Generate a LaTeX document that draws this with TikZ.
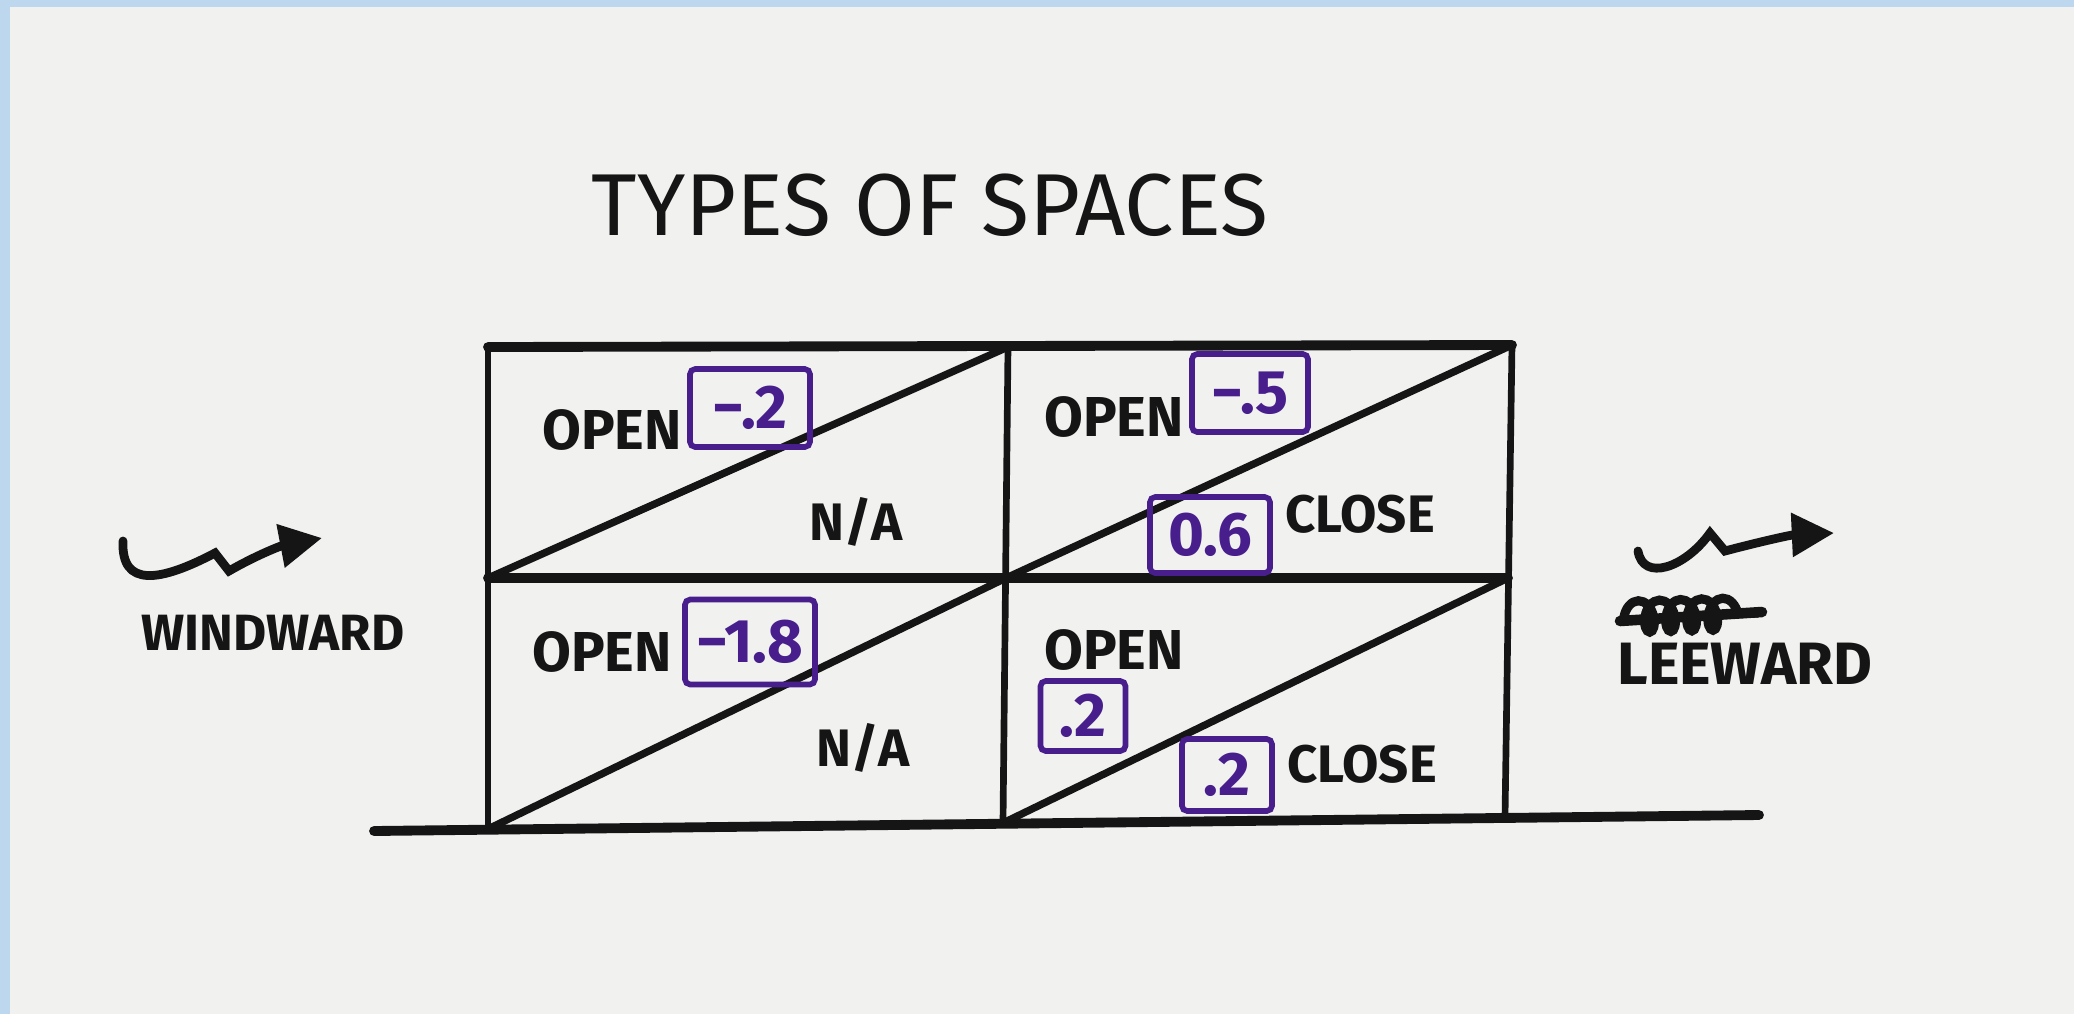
\documentclass[tikz,border=0pt]{standalone}
\usepackage{fontspec}
\setmainfont{Fira Sans}
\usetikzlibrary{arrows.meta,decorations.pathmorphing}
\definecolor{paper}{HTML}{F1F2EF}
\definecolor{band}{HTML}{BCD7EE}
\definecolor{ink}{HTML}{151515}
\definecolor{pmark}{RGB}{72,30,140}
\tikzset{
  heavy/.style={draw=ink, line width=2.8pt, line cap=round},
  post/.style={draw=ink, line width=1.9pt},
  diag/.style={draw=ink, line width=2.1pt, line cap=round},
  lbl/.style={text=ink, inner sep=0pt, font=\fontsize{15}{15}\selectfont\bfseries},
  openlbl/.style={lbl, font=\fontsize{16}{16}\selectfont\bfseries},
  val/.style 2 args={draw=pmark, text=pmark, line width=1.6pt, rounded corners=1.5pt,
     inner sep=0pt, minimum width=#1, minimum height=#2,
     font=\fontsize{17.5}{17.5}\selectfont\bfseries},
  wind/.style={draw=ink, line width=2.5pt, line cap=round, -{Triangle[length=12pt,width=12pt]}}
}
\begin{document}
\begin{tikzpicture}[x=0.01cm,y=-0.01cm]
\useasboundingbox (0,0) rectangle (2074,1014);
\fill[paper] (0,0) rectangle (2074,1014);
\fill[band] (0,0) rectangle (2074,7);
\fill[band] (0,0) rectangle (10,1014);

% title
\node[text=ink, inner sep=0pt, font=\fontsize{25}{25}\selectfont] (title) at (930,205) {TYPES OF SPACES};

% grid corners
\coordinate (tl) at (488,347);
\coordinate (tm) at (1008,347);
\coordinate (tr) at (1512,345);
\coordinate (ml) at (488,578);
\coordinate (mm) at (1006,578);
\coordinate (mr) at (1508,578);
\coordinate (bl) at (488,829);
\coordinate (bm) at (1003,823);
\coordinate (br) at (1505,818);
\coordinate (fl) at (374,831);
\coordinate (fr) at (1759,815);

\draw[post] (tl) -- (bl);
\draw[post] (tm) -- (bm);
\draw[post] (tr) -- (br);
\draw[heavy] (tl) -- (tr);
\draw[heavy] (ml) -- (mr);
\draw[heavy] (fl) -- (fr);
\draw[diag] (ml) -- (tm);
\draw[diag] (mm) -- (tr);
\draw[diag] (bl) -- (mm);
\draw[diag] (bm) -- (mr);

% labels
\node[openlbl] (open1) at (612,430) {OPEN};
\node[openlbl] (open2) at (1114,417) {OPEN};
\node[openlbl] (open3) at (602,652) {OPEN};
\node[openlbl] (open4) at (1114,650) {OPEN};
\node[lbl] (na1) at (856,522) {N/A};
\node[lbl] (na2) at (863,748) {N/A};
\node[lbl] (close1) at (1360,514) {CLOSE};
\node[lbl] (close2) at (1362,764) {CLOSE};

% values
\node[val={1.2cm}{0.78cm}] (b1) at (750,408) {−.2};
\node[val={1.16cm}{0.78cm}] (b2) at (1250,393) {−.5};
\node[val={1.2cm}{0.76cm}] (b3) at (1210,535) {0.6};
\node[val={1.3cm}{0.85cm}] (b4) at (750,642) {−1.8};
\node[val={0.85cm}{0.7cm}] (b5) at (1083,716) {.2};
\node[val={0.9cm}{0.72cm}] (b6) at (1227,775) {.2};

% windward
\node[lbl, font=\fontsize{14.5}{14.5}\selectfont\bfseries] (windward) at (273,633) {WINDWARD};
\coordinate (w0) at (123,541);
\coordinate (w1) at (215,553);
\coordinate (w2) at (229,571);
\coordinate (w3) at (322,538);
\draw[wind] (w0) .. controls (121,588) and (160,582) .. (w1) -- (w2) .. controls (255,556) and (280,546) .. (w3);

% leeward
\node[lbl, font=\fontsize{17}{17}\selectfont\bfseries] (leeward) at (1745,664) {LEEWARD};
\coordinate (l0) at (1638,551);
\coordinate (l1) at (1710,533);
\coordinate (l2) at (1725,551);
\coordinate (l3) at (1834,533);
\draw[wind] (l0) .. controls (1643,582) and (1685,568) .. (l1) -- (l2) .. controls (1755,543) and (1790,535) .. (l3);
% crossed-out word
\draw[ink, line width=2.6pt, decorate, decoration={coil, aspect=0.6, segment length=6pt, amplitude=4.5pt}] (1624,617) -- (1758,613);
\draw[ink, line width=3pt, line cap=round] (1620,621) -- (1762,612);
\end{tikzpicture}
\end{document}
